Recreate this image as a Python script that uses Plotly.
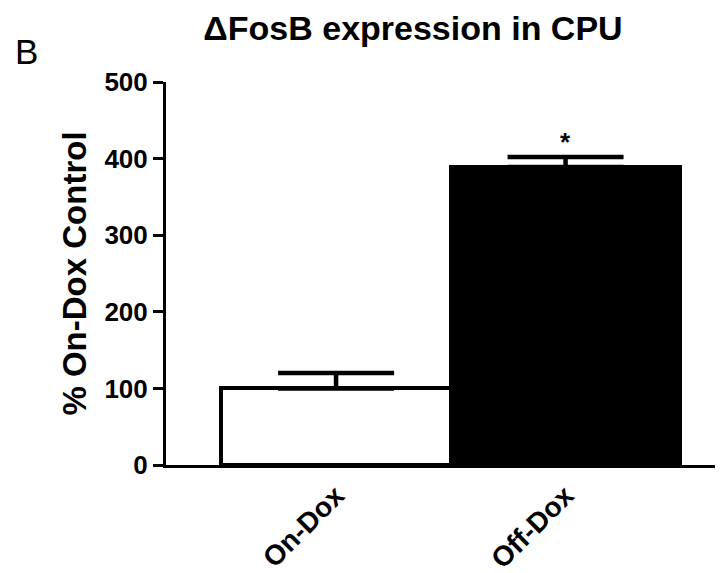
import plotly.graph_objects as go

categories = ["On-Dox", "Off-Dox"]
values = [100, 389]
errors = [20, 13]
bar_colors = ["white", "black"]
y_ticks = [0, 100, 200, 300, 400, 500]

FONT = "Liberation Sans, Arial, sans-serif"

# page is rendered with an 8px body margin, so the figure is slightly smaller
W, H = 715, 565
ML, MT, MB, MR = 158, 74, 108, 0
PW, PH = W - ML - MR, H - MT - MB

fig = go.Figure()
fig.add_trace(go.Bar(
    x=[0, 1],
    y=values,
    width=1,
    marker=dict(color=bar_colors, line=dict(color="black", width=4)),
    error_y=dict(type="data", array=errors, symmetric=False, arrayminus=[0, 0],
                 color="black", thickness=4.5, width=58),
    showlegend=False,
))

fig.add_annotation(x=1, y=values[1] + errors[1], xref="x", yref="y",
                   text="*", showarrow=False, yanchor="bottom", yshift=-2,
                   font=dict(family=FONT, size=26, color="black", weight="bold"))

fig.add_annotation(x=(5 - ML) / PW, y=1 + (MT - 22) / PH, xref="paper", yref="paper",
                   text="B", showarrow=False, xanchor="left", yanchor="top",
                   font=dict(family=FONT, size=35, color="black"))

fig.update_layout(
    width=W, height=H,
    margin=dict(l=ML, r=MR, t=MT, b=MB),
    paper_bgcolor="white", plot_bgcolor="white",
    bargap=0,
    title=dict(text="ΔFosB expression in CPU", x=405 / W, xanchor="center",
               xref="container", y=1 - 20 / H, yanchor="middle", yref="container",
               font=dict(family=FONT, size=34, color="black", weight="bold")),
    xaxis=dict(range=[-0.741, 1.686], tickmode="array", tickvals=[0, 1],
               ticktext=categories, tickangle=-45, showgrid=False, zeroline=False,
               showline=True, linecolor="black", linewidth=3, ticks="",
               tickfont=dict(family=FONT, size=28, color="black", weight="bold")),
    yaxis=dict(range=[0, 500], tickmode="array", tickvals=y_ticks,
               showgrid=False, zeroline=False, showline=True, linecolor="black",
               linewidth=3, ticks="outside", ticklen=10, tickwidth=3, tickcolor="black",
               tickfont=dict(family=FONT, size=26, color="black", weight="bold"),
               title=dict(text="% On-Dox Control", standoff=8,
                          font=dict(family=FONT, size=33, color="black", weight="bold"))),
)

fig.write_html("out.html")
